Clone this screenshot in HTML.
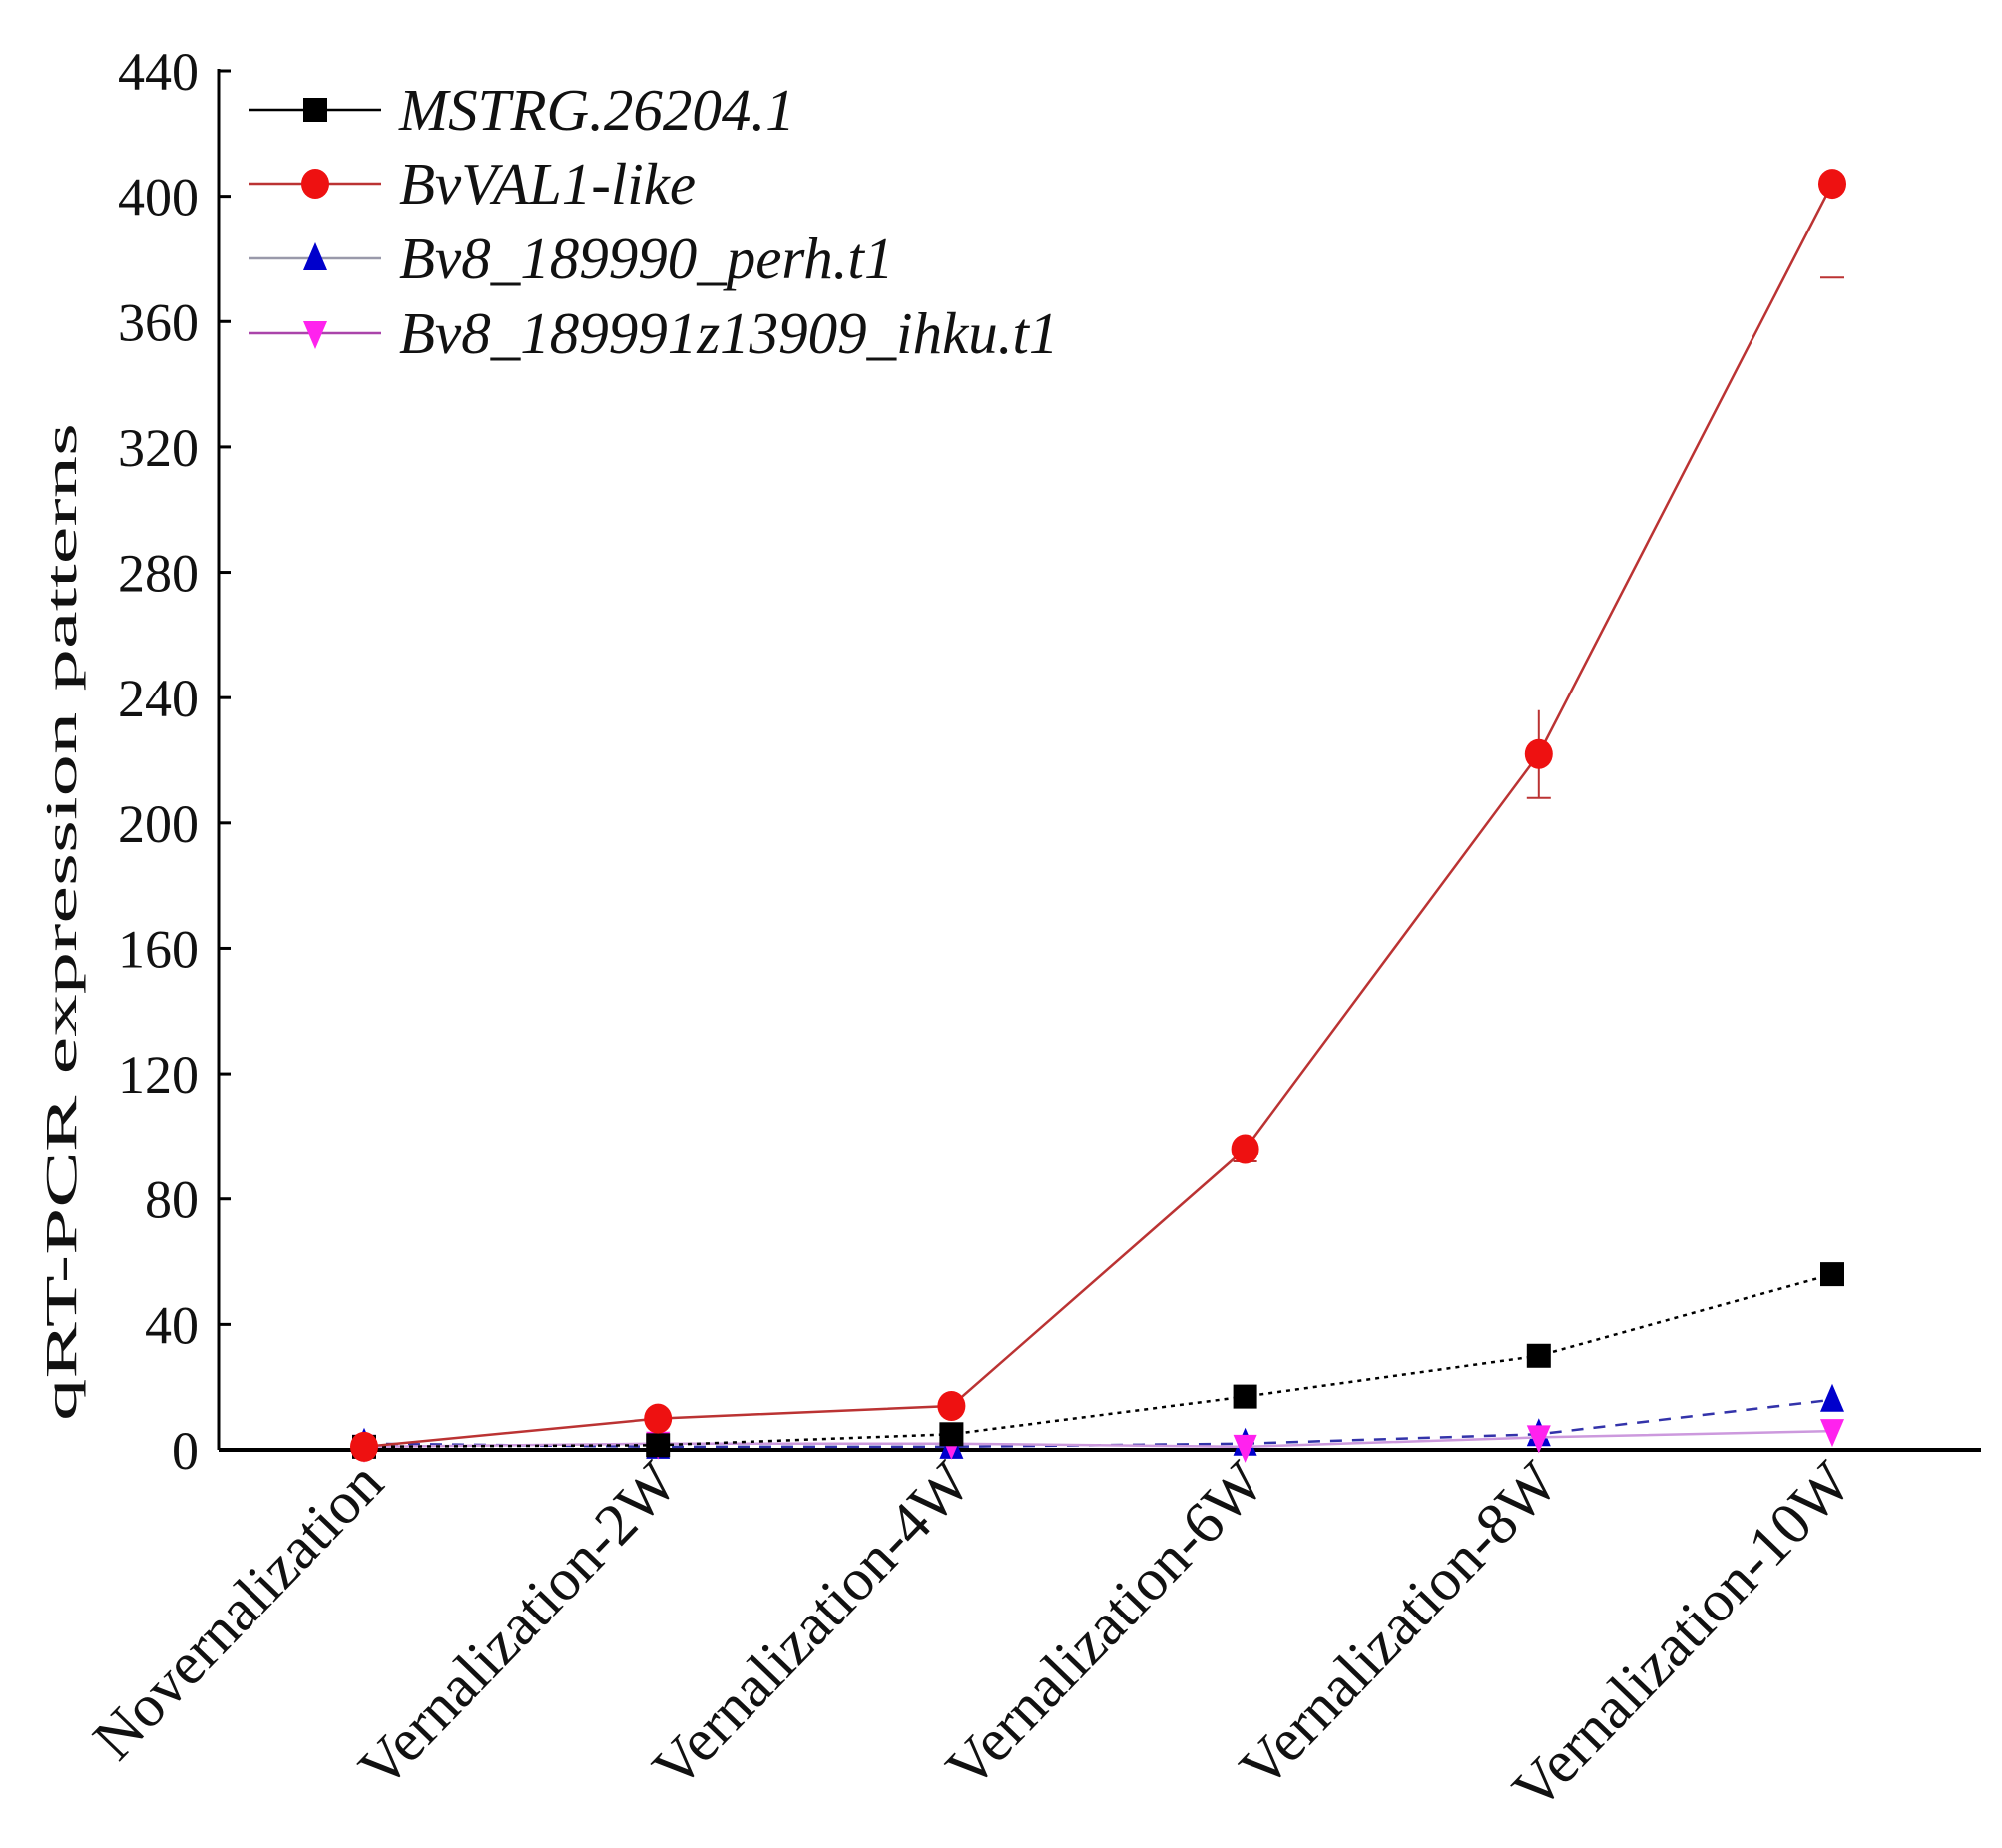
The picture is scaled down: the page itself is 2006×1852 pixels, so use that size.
<!DOCTYPE html>
<html><head><meta charset="utf-8"><style>
html,body{margin:0;padding:0;background:#fff}
svg{display:block}
text{font-family:"Liberation Serif",serif;fill:#111}
</style></head><body>
<svg id="chart" width="2006" height="1852" viewBox="0 0 2006 1852" xmlns="http://www.w3.org/2000/svg">
<g id="axes"></g><g id="series"></g><g id="legend"></g>
</svg>
<script>
const categories=["Novernalization","Vernalization-2W","Vernalization-4W","Vernalization-6W","Vernalization-8W","Vernalization-10W"];
const yTicks=[0,40,80,120,160,200,240,280,320,360,400,440];
const seriesNames=["MSTRG.26204.1","BvVAL1-like","Bv8_189990_perh.t1","Bv8_189991z13909_ihku.t1"];
const mstrgValues=[1,1.5,5,17,30,56];
const valValues=[1,10,14,96,222,404];
const valErrUp=[0,0,0,3,14,0];
const valErrDown=[0,0,0,4,14,30];
const perhValues=[2,1,1,2,5,16];
const ihkuValues=[1,2,2,1,4,6];

const NS="http://www.w3.org/2000/svg";
const X0=219,X1=1985,Y0=1453,Y440=71;
const x0=365,xStep=294.2;
function xs(i){return x0+i*xStep;}
function ys(v){return Y0-(v/440)*(Y0-Y440);}
function mk(tag,attrs,parent){const e=document.createElementNS(NS,tag);for(const k in attrs)e.setAttribute(k,attrs[k]);parent.appendChild(e);return e;}
const axes=document.getElementById('axes'),ser=document.getElementById('series'),leg=document.getElementById('legend');

let e=mk('line',{x1:X0,y1:Y440-2,x2:X0,y2:Y0,stroke:'#000','stroke-width':3},axes);


e=mk('line',{x1:X0,y1:Y0,x2:X1,y2:Y0,stroke:'#000','stroke-width':4},axes);


yTicks.forEach(t=>{
  const y=ys(t);
  mk('line',{x1:X0,y1:y,x2:X0+12,y2:y,stroke:'#000','stroke-width':3},axes);
  const tx=mk('text',{x:X0-20,y:y+19,'text-anchor':'end','font-size':54},axes);
  tx.textContent=t;
  
  
});
e=mk('text',{x:0,y:0,'font-size':44,'text-anchor':'middle',textLength:1000,lengthAdjust:'spacingAndGlyphs',transform:'translate(76,924) rotate(-90)'},axes);
e.textContent='qRT-PCR expression patterns';


categories.forEach((c,i)=>{
  const t=mk('text',{x:0,y:0,'font-size':60,'text-anchor':'end',transform:`translate(${xs(i)+22},${Y0+36}) rotate(-46)`},axes);
  t.textContent=c;
  
  
});

function marker(shape,color,cx,cy,g,s){
  if(shape==='square')return mk('rect',{x:cx-s,y:cy-s,width:2*s,height:2*s,fill:color},g);
  if(shape==='circle')return mk('ellipse',{cx:cx,cy:cy,rx:s+2,ry:s+3,fill:color},g);
  if(shape==='up')return mk('polygon',{points:`${cx},${cy-s-4} ${cx-s},${cy+s} ${cx+s},${cy+s}`,fill:color},g);
  return mk('polygon',{points:`${cx},${cy+s+4} ${cx-s},${cy-s} ${cx+s},${cy-s}`,fill:color},g);
}
const defs=[
 {vals:perhValues,color:'#0000cc',line:'#3333aa',dash:'12,10',shape:'up',name:'series-perh'},
 {vals:ihkuValues,color:'#ff22ee',line:'#cc99dd',dash:'',shape:'down',name:'series-ihku'},
 {vals:mstrgValues,color:'#000',line:'#000',dash:'4,5',shape:'square',name:'series-mstrg'},
 {vals:valValues,color:'#ee1111',line:'#b33',dash:'',shape:'circle',name:'series-bvval1'}
];
defs.forEach(d=>{
  const g=mk('g',{},ser);
  
  
  const pts=d.vals.map((v,i)=>`${xs(i)},${ys(v)}`).join(' ');
  const pl=mk('polyline',{points:pts,fill:'none',stroke:d.line,'stroke-width':2.5,'stroke-dasharray':d.dash},g);
  
  
  if(d.name==='series-bvval1'){
    valValues.forEach((v,i)=>{
      const x=xs(i);
      if(valErrUp[i]){
        mk('line',{x1:x,y1:ys(v),x2:x,y2:ys(v+valErrUp[i]),stroke:'#b33','stroke-width':2},g);
      }
      if(valErrDown[i]){
        if(valErrUp[i]) mk('line',{x1:x,y1:ys(v),x2:x,y2:ys(v-valErrDown[i]),stroke:'#b33','stroke-width':2},g);
        mk('line',{x1:x-12,y1:ys(v-valErrDown[i]),x2:x+12,y2:ys(v-valErrDown[i]),stroke:'#b33','stroke-width':2},g);
      }
    });
  }
  d.vals.forEach((v,i)=>{
    const m=marker(d.shape,d.color,xs(i),ys(v),g,12);
    
    
  });
});

const legDefs=[
 {color:'#000',line:'#000',shape:'square'},
 {color:'#ee1111',line:'#b33',shape:'circle'},
 {color:'#0000cc',line:'#99a',shape:'up'},
 {color:'#ff22ee',line:'#a4a',shape:'down'}
];
const legY=[110,184,259,334];
seriesNames.forEach((n,i)=>{
  const g=mk('g',{},leg);
  
  
  const y=legY[i];
  mk('line',{x1:249,y1:y,x2:382,y2:y,stroke:legDefs[i].line,'stroke-width':2.5},g);
  marker(legDefs[i].shape,legDefs[i].color,316,y,g,12);
  const t=mk('text',{x:400,y:y+20,'font-size':59,'font-style':'italic'},g);
  t.textContent=n;
});
</script>
</body></html>
